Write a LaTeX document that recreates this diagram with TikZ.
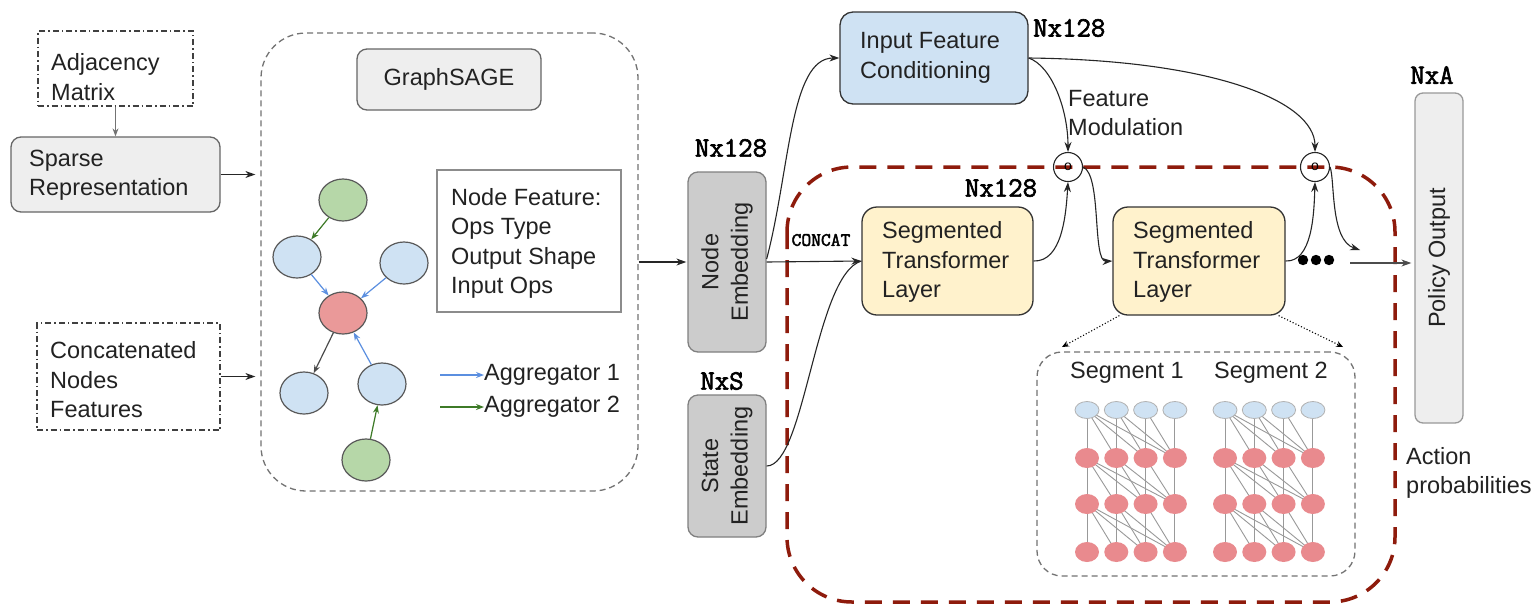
\documentclass[tikz,border=0pt]{standalone}
\usepackage{fontspec}
\setmainfont{Liberation Sans}
\newfontfamily\dimfont{Latin Modern Mono}[FakeBold=2.2]
\usetikzlibrary{arrows.meta,shapes.geometric}
\definecolor{txt}{HTML}{222222}
\definecolor{gfill}{HTML}{EEEEEE}
\definecolor{gdraw}{HTML}{666666}
\definecolor{efill}{HTML}{CCCCCC}
\definecolor{bfill}{HTML}{CFE2F3}
\definecolor{yfill}{HTML}{FFF2CC}
\definecolor{nfill}{HTML}{B6D7A8}
\definecolor{rfill}{HTML}{EA9999}
\definecolor{tred}{HTML}{E98A8E}
\definecolor{aggblue}{HTML}{5B8FE0}
\definecolor{agggreen}{HTML}{3D7A27}
\definecolor{darkred}{HTML}{8E1B0C}
\pgfdeclarelayer{back}
\pgfdeclarelayer{bg}
\pgfsetlayers{back,bg,main}
\begin{document}
\begin{tikzpicture}[x=1pt,y=-1pt,
  lbl/.style={font=\fontsize{23.5}{29.5}\selectfont, text=txt, align=left, inner sep=0pt},
  dimlbl/.style={font=\dimfont\fontsize{28}{30}\selectfont, text=black, inner sep=0pt},
  boxbase/.style={inner sep=0pt, line width=1.3pt},
  graybox/.style={boxbase, draw=gdraw, fill=gfill, rounded corners=10pt},
  dashdotbox/.style={boxbase, draw=black!75, dash pattern=on 6pt off 3pt on 1.5pt off 3pt},
  embbox/.style={boxbase, draw=black!50, fill=efill, rounded corners=10pt},
  bluebox/.style={boxbase, draw=black!80, fill=bfill, rounded corners=13pt},
  yellowbox/.style={boxbase, draw=black!80, fill=yfill, rounded corners=15pt},
  frame/.style={boxbase, draw=black!55, dash pattern=on 6pt off 4pt},
  gnode/.style={ellipse, inner sep=0pt, minimum width=48pt, minimum height=42pt, line width=1.2pt, draw=black!65},
  conn/.style={-{Stealth[length=10pt,width=7pt]}, line width=1.1pt, draw=black!85},
  plain/.style={line width=1.1pt, draw=black!85},
  aggarrow/.style={-{Stealth[length=8pt,width=6pt]}, line width=1.2pt},
  hada/.style={circle, inner sep=0pt, minimum size=29pt, line width=1.1pt, draw=black!85},
  tblue/.style={ellipse, inner sep=0pt, minimum width=24pt, minimum height=17pt, fill=bfill, draw=black!30, line width=0.8pt},
  tredn/.style={ellipse, inner sep=0pt, minimum width=24pt, minimum height=20pt, fill=tred},
  tline/.style={draw=black!40, line width=0.9pt}
]
\useasboundingbox (0,0) rectangle (1534,606);
\begin{pgfonlayer}{back}
\fill[white] (0,0) rectangle (1534,606);
\end{pgfonlayer}

% ---------- input side ----------
\node[dashdotbox, minimum width=155pt, minimum height=75pt] (adj) at (115.5,68.5) {};
\node[lbl, anchor=west] (adjT) at (51,77) {Adjacency\\Matrix};
\node[graybox, minimum width=209pt, minimum height=75pt] (sparse) at (115.5,174.5) {};
\node[lbl, anchor=west] (sparseT) at (29,175) {Sparse\\Representation};
\node[dashdotbox, minimum width=183pt, minimum height=107pt] (concat) at (128.5,376.5) {};
\node[lbl, anchor=west] (concatT) at (50,380) {Concatenated\\Nodes\\Features};
\draw[-{Stealth[length=8pt,width=6pt]}, line width=1.1pt, draw=black!55] (adj) -- (sparse);

% ---------- GraphSAGE block ----------
\node[frame, rounded corners=45pt, minimum width=377pt, minimum height=458pt] (gsage) at (449.5,262) {};
\draw[conn, shorten >=5pt] (sparse.east) -- (sparse.east -| gsage.west);
\draw[conn, shorten >=5pt] (concat.east) -- (concat.east -| gsage.west);
\node[graybox, minimum width=184pt, minimum height=61pt] (gsbox) at (449,79.5) {};
\node[lbl] (gsboxT) at (gsbox) {GraphSAGE};
\node[boxbase, draw=black!45, minimum width=184pt, minimum height=142pt] (nfeat) at (529,241) {};
\node[lbl, anchor=west] (nfeatT) at (451,243.5) {Node Feature:\\Ops Type\\Output Shape\\Input Ops};

\node[gnode, fill=nfill] (gA) at (343,200) {};
\node[gnode, fill=bfill] (bL) at (297,257) {};
\node[gnode, fill=bfill] (bR) at (404,263) {};
\node[gnode, fill=rfill] (rC) at (343,313) {};
\node[gnode, fill=bfill] (bBL) at (304,393) {};
\node[gnode, fill=bfill] (bBR) at (382,384) {};
\node[gnode, fill=nfill] (gB) at (366,460) {};
\draw[aggarrow, agggreen] (gA) -- (bL);
\draw[aggarrow, aggblue] (bL) -- (rC);
\draw[aggarrow, aggblue] (bR) -- (rC);
\draw[aggarrow, black!70] (rC) -- (bBL);
\draw[aggarrow, aggblue] (bBR) -- (rC);
\draw[aggarrow, agggreen] (gB) -- (bBR);

\coordinate (l1) at (440,375);
\coordinate (l2) at (440,407);
\node[lbl, anchor=west] (agg1) at (484,375) {Aggregator 1};
\node[lbl, anchor=west] (agg2) at (484,407) {Aggregator 2};
\draw[aggarrow, aggblue] (l1) -- (agg1.west);
\draw[aggarrow, agggreen] (l2) -- (agg2.west);

% ---------- embeddings ----------
\node[embbox, minimum width=78pt, minimum height=180pt] (ne) at (727,262) {};
\node[lbl, align=center, rotate=90] (neT) at (ne) {Node\\Embedding};
\node[dimlbl] (dimNE) at (731,148) {Nx128};
\node[embbox, minimum width=78pt, minimum height=142pt] (state) at (727,466) {};
\node[lbl, align=center, rotate=90] (stateT) at (state) {State\\Embedding};
\node[dimlbl] (dimS) at (722,381) {NxS};
\draw[conn, shorten >=1pt] (gsage.east |- ne) -- (ne.west);

% ---------- transformer stack container ----------
\draw[darkred, line width=3.5pt, dash pattern=on 17pt off 11pt, rounded corners=65pt]
  (787,167) rectangle (1395,602);

\node[bluebox, minimum width=188pt, minimum height=92pt] (ifc) at (934,58) {};
\node[lbl, anchor=west] (ifcT) at (860,58) {Input Feature\\Conditioning};
\node[dimlbl, anchor=west] (dimIFC) at (1033,28) {Nx128};
\node[lbl, anchor=west] (fm) at (1068,113) {Feature\\Modulation};

\node[yellowbox, minimum width=171pt, minimum height=108pt] (seg1) at (947.5,261) {};
\node[lbl, anchor=west] (seg1T) at (882,262) {Segmented\\Transformer\\Layer};
\node[dimlbl] (dimSeg) at (1001,188) {Nx128};
\node[font=\dimfont\fontsize{19}{20}\selectfont, inner sep=0pt] (concatLbl) at (821,240) {CONCAT};
\node[yellowbox, minimum width=172pt, minimum height=108pt] (seg2) at (1199,261) {};
\node[lbl, anchor=west] (seg2T) at (1133,262) {Segmented\\Transformer\\Layer};

\node[hada] (c1) at (1068,167) {};
\node[hada] (c2) at (1315,167) {};
\node[inner sep=0pt, font=\fontsize{14}{14}\selectfont] (c1o) at (c1) {o};
\node[inner sep=0pt, font=\fontsize{14}{14}\selectfont] (c2o) at (c2) {o};

\draw[conn] (ne.east) -- (seg1.west);
\draw[conn] ([yshift=3pt]ne.east) .. controls (790,170) and (790,58) .. (ifc.west);
\draw[plain] (state.east) .. controls (805,466) and (815,275) .. (seg1.west);
\draw[conn] (ifc.east) .. controls (1052,66) and (1068,110) .. (c1.north);
\draw[conn] (ifc.east) .. controls (1210,60) and (1315,100) .. (c2.north);
\draw[conn] (seg1.east) .. controls (1062,262) and (1066,215) .. (c1.south);
\draw[conn] (c1.east) .. controls (1102,175) and (1092,262) .. (seg2.west);
\draw[conn] (seg2.east) .. controls (1312,262) and (1314,215) .. (c2.south);
\coordinate (c2out) at (1360,250);
\draw[conn] (c2.east) .. controls (1335,180) and (1330,240) .. (c2out);

\fill[black] (1303,260) circle (5.2) (1316,260) circle (5.2) (1329,260) circle (5.2);

% ---------- policy output ----------
\node[boxbase, draw=black!40, fill=gfill, rounded corners=8pt, minimum width=48pt, minimum height=330pt] (policy) at (1439,258) {};
\node[lbl, rotate=90] (policyT) at (policy) {Policy Output};
\node[dimlbl] (dimA) at (1432,75) {NxA};
\coordinate (pin) at (1350,263);
\draw[conn, draw=black!70, shorten >=3pt] (pin) -- (pin -| policy.west);
\node[lbl, anchor=west] (act) at (1406,473) {Action\\probabilities};

% ---------- segment detail ----------
\node[frame, rounded corners=25pt, minimum width=318pt, minimum height=224pt] (segbox) at (1196,464) {};
\coordinate (zl) at (1062,347);
\coordinate (zr) at (1343,347);
\draw[dotted, line width=1.1pt, -{Stealth[length=7pt,width=6pt]}] ([xshift=7pt]seg2.south west) -- (zl);
\draw[dotted, line width=1.1pt, -{Stealth[length=7pt,width=6pt]}] ([xshift=-7pt]seg2.south east) -- (zr);
\node[lbl] (sg1) at (1127,373) {Segment 1};
\node[lbl] (sg2) at (1271,373) {Segment 2};

\foreach \s/\xo in {1/1087,2/1225}{
  \foreach \c in {1,...,4}{
    \node[tblue] (s\s r1c\c) at ({\xo+(\c-1)*29.3},410) {};
    \foreach \r/\yy in {2/458,3/504,4/552}
      \node[tredn] (s\s r\r c\c) at ({\xo+(\c-1)*29.3},\yy) {};
  }
}
% attention links: each unit feeds itself and every unit to its right
\begin{pgfonlayer}{bg}
\foreach \s in {1,2}{
  \foreach \r/\rn in {1/2,2/3,3/4}{
    \foreach \i in {1,...,4}{
      \foreach \j in {\i,...,4}{
        \draw[tline] (s\s r\r c\i.center) -- (s\s r\rn c\j.center);
      }
    }
  }
}
\end{pgfonlayer}
\end{tikzpicture}
\end{document}
